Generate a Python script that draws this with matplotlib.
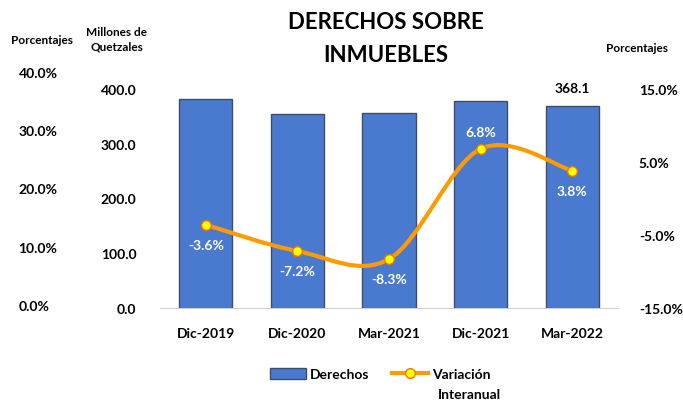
import numpy as np
import matplotlib
matplotlib.use("Agg")
import matplotlib.pyplot as plt
from matplotlib.path import Path
from matplotlib.patches import PathPatch, Patch
from matplotlib.lines import Line2D

# datos del gráfico
periodos = ["Dic-2019", "Dic-2020", "Mar-2021", "Dic-2021", "Mar-2022"]
derechos = [381.7, 354.3, 355.6, 378.0, 368.1]        # millones de quetzales
variacion = [-3.6, -7.2, -8.3, 6.8, 3.8]              # variación interanual %
ticks_mq = [0, 100, 200, 300, 400]
ticks_var = [-15, -5, 5, 15]
ticks_pct = [0, 10, 20, 30, 40]

azul = "#4A7AD0"
borde = "#3E4D66"
naranja = "#FF9A00"
amarillo = "#FFFF00"

plt.rcParams["font.family"] = ["Lato", "DejaVu Sans"]
plt.rcParams["font.weight"] = "bold"

fig = plt.figure(figsize=(6.83, 4.02), dpi=100)
W, H = 683, 402
ax = fig.add_axes([160 / W, (H - 309) / H, (618 - 160) / W, (309 - 90) / H])

x = np.arange(len(periodos))
ax.bar(x, derechos, width=0.58, color=azul, edgecolor=borde, linewidth=1, zorder=2)
ax.set_xlim(-0.5, len(periodos) - 0.5)
ax.set_ylim(0, 400)
ax.set_yticks(ticks_mq)
ax.set_yticklabels([f"{v:.1f}" for v in ticks_mq])
ax.set_xticks(x)
ax.set_xticklabels(periodos)
ax.tick_params(axis="both", length=0, labelsize=10)
ax.tick_params(axis="y", pad=17)
ax.tick_params(axis="x", pad=14)
for s in ["top", "left", "right"]:
    ax.spines[s].set_visible(False)
ax.spines["bottom"].set_color("#D0D0D0")

# etiqueta del último valor
ax.annotate(f"{derechos[-1]:.1f}", (x[-1], derechos[-1]), xytext=(0, 18),
            textcoords="offset pixels", ha="center", va="center",
            fontsize=10, fontweight="bold", color="black")

# eje secundario con la variación
ax2 = ax.twinx()
ax2.set_ylim(-15, 15)
ax2.set_yticks(ticks_var)
ax2.set_yticklabels([f"{v:.1f}%" for v in ticks_var])
ax2.tick_params(axis="y", length=0, pad=15, labelsize=10)
for s in ax2.spines.values():
    s.set_visible(False)

# curva suavizada (bezier) entre los puntos
pts = np.column_stack([x, variacion]).astype(float)
verts = [pts[0]]
codes = [Path.MOVETO]
n = len(pts)
for i in range(n - 1):
    p0 = pts[i - 1] if i > 0 else pts[i]
    p1 = pts[i]
    p2 = pts[i + 1]
    p3 = pts[i + 2] if i + 2 < n else pts[i + 1]
    c1 = p1 + (p2 - p0) / 6
    c2 = p2 - (p3 - p1) / 6
    verts += [c1, c2, p2]
    codes += [Path.CURVE4] * 3
ax2.add_patch(PathPatch(Path(verts, codes), facecolor="none", edgecolor=naranja,
                        linewidth=3, capstyle="round", zorder=3))
ax2.plot(x, variacion, linestyle="none", marker="o", markersize=7,
         markerfacecolor=amarillo, markeredgecolor="#F07800", markeredgewidth=1, zorder=4)

for xi, v in zip(x, variacion):
    dy = 17 if v == max(variacion) else -20
    ax2.annotate(f"{v:.1f}%", (xi, v), xytext=(0, dy), textcoords="offset pixels",
                 ha="center", va="center", fontsize=10, fontweight="bold", color="white")

# eje de porcentajes a la izquierda
ax3 = fig.add_axes([15 / W, (H - 306) / H, 0.001, (306 - 73) / H])
ax3.set_ylim(0, 40)
ax3.set_yticks(ticks_pct)
ax3.set_yticklabels([f"{v:.1f}%" for v in ticks_pct])
ax3.yaxis.tick_right()
ax3.tick_params(axis="y", length=0, pad=2, labelsize=10)
ax3.set_xticks([])
for s in ax3.spines.values():
    s.set_visible(False)
ax3.patch.set_visible(False)

# títulos y rótulos de ejes
fig.text(386 / W, 1 - 39 / H, "DERECHOS SOBRE\nINMUEBLES", ha="center", va="center",
         fontsize=16, fontweight="bold", linespacing=1.7)
fig.text(42 / W, 1 - 41 / H, "Porcentajes", ha="center", va="center", fontsize=8.5)
fig.text(117 / W, 1 - 40 / H, "Millones de\nQuetzales", ha="center", va="center",
         fontsize=8.5, linespacing=1.35)
fig.text(637 / W, 1 - 48 / H, "Porcentajes", ha="center", va="center", fontsize=8.5)

# leyenda
handles = [Patch(facecolor=azul, edgecolor=borde, linewidth=1),
           Line2D([], [], color=naranja, linewidth=3, marker="o", markersize=7,
                  markerfacecolor=amarillo, markeredgecolor="#F07800")]
fig.legend(handles, ["Derechos", "Variación"], loc="center", ncol=2,
           bbox_to_anchor=(380 / W, 1 - 375 / H), frameon=False, fontsize=10,
           handlelength=2.6, handleheight=0.9, columnspacing=1.6, handletextpad=0.3)
fig.text(438 / W, 1 - 395 / H, "Interanual", ha="left", va="center", fontsize=10)

fig.savefig("out.png", dpi=100)
